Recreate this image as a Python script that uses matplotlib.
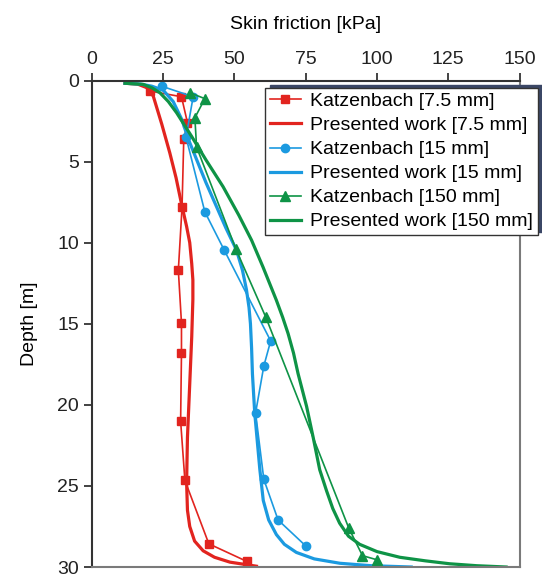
import matplotlib
matplotlib.use("Agg")
import matplotlib.pyplot as plt

# Katzenbach measurements (skin friction [kPa], depth [m])
katz_75_x = [20.3, 31.4, 33.5, 32.2, 31.6, 30.3, 31.4, 31.4, 31.1, 32.6, 41.0, 54.4]
katz_75_y = [0.65, 1.0, 2.6, 3.63, 7.8, 11.7, 14.95, 16.8, 21.0, 24.66, 28.57, 29.66]

katz_15_x = [24.6, 35.5, 33.0, 39.6, 46.4, 62.7, 60.3, 57.4, 60.3, 65.3, 75.0]
katz_15_y = [0.36, 1.0, 3.5, 8.1, 10.46, 16.06, 17.6, 20.5, 24.6, 27.1, 28.7]

katz_150_x = [34.3, 39.6, 36.1, 36.7, 50.5, 61.0, 90.1, 94.9, 100.1]
katz_150_y = [0.75, 1.12, 2.3, 4.1, 10.4, 14.6, 27.6, 29.3, 29.56]

# Presented work curves
pw_75_x = [11.6, 16.0, 19.2, 21.5, 24.5, 27.3, 29.5, 31.4, 33.2, 34.3, 35.0, 35.4,
           35.4, 35.0, 34.3, 33.5, 33.2, 33.5, 34.3, 36.0, 39.0, 43.0, 48.4, 57.7]
pw_75_y = [0.17, 0.22, 0.44, 0.96, 2.7, 4.46, 6.0, 7.6, 9.0, 10.0, 11.3, 12.3,
           13.5, 15.8, 18.7, 22.0, 24.8, 26.5, 27.5, 28.4, 29.0, 29.4, 29.7, 29.95]

pw_15_x = [11.6, 17.0, 21.0, 25.0, 28.5, 31.5, 34.0, 37.0, 40.0, 43.5, 47.0, 50.7,
           52.8, 54.2, 55.1, 55.6, 56.0, 56.3, 57.1, 58.9, 60.1, 62.0, 64.7, 67.5,
           71.7, 78.0, 87.0, 98.0, 112.0]
pw_15_y = [0.17, 0.22, 0.35, 0.6, 1.3, 2.4, 3.7, 5.0, 6.3, 7.7, 9.1, 10.46,
           11.7, 12.9, 14.0, 15.0, 16.5, 18.1, 20.5, 24.0, 25.9, 27.1, 28.0, 28.6,
           29.1, 29.5, 29.77, 29.92, 30.0]

pw_150_x = [11.6, 18.0, 21.0, 23.8, 26.8, 29.7, 34.9, 40.0, 46.0, 51.5, 56.0, 60.0,
            64.7, 66.9, 68.8, 70.7, 72.3, 75.3, 77.6, 79.9, 82.3, 84.5, 86.9, 90.0,
            93.9, 100.0, 108.0, 117.0, 125.5, 135.0, 145.3]
pw_150_y = [0.17, 0.24, 0.45, 0.75, 1.3, 1.99, 3.43, 4.9, 6.55, 8.3, 9.85, 11.5,
            13.55, 14.6, 15.6, 16.8, 18.07, 20.1, 22.0, 24.0, 25.3, 26.4, 27.3, 28.1,
            28.6, 29.05, 29.4, 29.62, 29.8, 29.92, 30.0]

red = "#e2241f"
blue = "#1b9ae0"
green = "#0e9346"

plt.rcParams["font.family"] = ["Liberation Sans", "DejaVu Sans"]

fig = plt.figure(figsize=(5.42, 5.8), dpi=100)
ax = fig.add_axes([0.1697, 0.0224, 0.7888, 0.8388])

ax.plot(katz_75_x, katz_75_y, color=red, lw=1.2, marker="s", ms=5.8,
        label="Katzenbach [7.5 mm]")
ax.plot(pw_75_x, pw_75_y, color=red, lw=2.3, label="Presented work [7.5 mm]")
ax.plot(katz_15_x, katz_15_y, color=blue, lw=1.2, marker="o", ms=6,
        label="Katzenbach [15 mm]")
ax.plot(pw_15_x, pw_15_y, color=blue, lw=2.3, label="Presented work [15 mm]")
ax.plot(katz_150_x, katz_150_y, color=green, lw=1.2, marker="^", ms=6.5,
        label="Katzenbach [150 mm]")
ax.plot(pw_150_x, pw_150_y, color=green, lw=2.3, label="Presented work [150 mm]")

ax.set_xlim(0, 150)
ax.set_ylim(30, 0)
ax.set_xticks([0, 25, 50, 75, 100, 125, 150])
ax.set_yticks([0, 5, 10, 15, 20, 25, 30])
ax.xaxis.tick_top()
ax.xaxis.set_label_position("top")
ax.tick_params(axis="both", direction="out", length=6, width=1.2,
               labelsize=14, colors="#222222")
ax.tick_params(axis="x", pad=3)
ax.set_xlabel("Skin friction [kPa]", fontsize=14, labelpad=16)
ax.set_ylabel("Depth [m]", fontsize=14, labelpad=14)

for side in ["left", "top"]:
    ax.spines[side].set_color("#333333")
    ax.spines[side].set_linewidth(1.5)
for side in ["right", "bottom"]:
    ax.spines[side].set_color("#7a7a7a")
    ax.spines[side].set_linewidth(1.5)

leg = ax.legend(loc="upper left", bbox_to_anchor=(0.404, 0.985), borderaxespad=0,
                fontsize=14, fancybox=False, framealpha=1, edgecolor="#333333",
                handlelength=1.6, handletextpad=0.5, labelspacing=0.33,
                borderpad=0.25,
                shadow={"ox": 4, "oy": 2, "color": "#3b4766", "alpha": 1})
leg.get_frame().set_linewidth(1.0)

fig.savefig("out.png", dpi=100)
